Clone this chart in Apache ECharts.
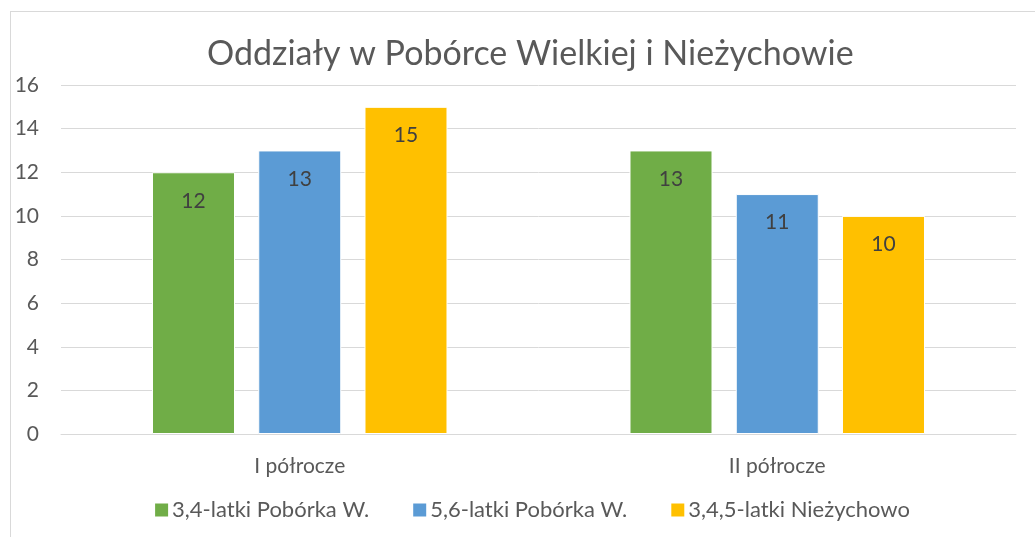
<!DOCTYPE html>
<html>
<head>
<meta charset="utf-8">
<script src="https://cdn.jsdelivr.net/npm/echarts@6/dist/echarts.min.js"></script>
<style>
  html, body { margin: 0; padding: 0; overflow: hidden; background: #fff; }
  .frame { position: absolute; left: 10px; top: 11px; width: 1060px; height: 600px; border: 1px solid #d9d9d9; }
  #chart { position: absolute; left: 0; top: 0; width: 1063px; height: 537px; }
</style>
</head>
<body>
<div class="frame"></div>
<div id="chart"></div>
<script>
// dane
var categories = ["I półrocze", "II półrocze"];
var seriesNames = ["3,4-latki Pobórka W.", "5,6-latki Pobórka W.", "3,4,5-latki Nieżychowo"];
var pobórka34 = [12, 13];
var pobórka56 = [13, 11];
var nieżychowo345 = [15, 10];
var yTicks = { min: 0, max: 16, interval: 2 };

var colors = ["#70ad47", "#5b9bd5", "#ffc000"];
var font = "Lato, 'Open Sans', sans-serif";

function makeSeries(name, data) {
  return {
    name: name,
    type: "bar",
    data: data,
    barWidth: 83,
    barGap: "28%",
    itemStyle: { borderColor: "#ffffff", borderWidth: 1 },
    label: {
      show: true,
      position: "insideTop",
      distance: 18,
      color: "#404040",
      fontSize: 21,
      fontFamily: font
    }
  };
}

var myChart = echarts.init(document.getElementById("chart"));
myChart.setOption({
  animation: false,
  color: colors,
  textStyle: { fontFamily: font },
  title: {
    text: "Oddziały w Pobórce Wielkiej i Nieżychowie",
    left: 207,
    top: 37,
    padding: 0,
    textStyle: { color: "#595959", fontSize: 34, fontWeight: "normal", fontFamily: font }
  },
  legend: {
    data: seriesNames,
    left: "center",
    top: 499,
    padding: 0,
    itemWidth: 15,
    itemHeight: 15,
    itemGap: 42,
    icon: "rect",
    textStyle: { color: "#595959", fontSize: 22, fontFamily: font, padding: [0, 0, 0, -2] }
  },
  grid: { left: 61, right: 47, top: 85, bottom: 103 },
  xAxis: {
    type: "category",
    data: categories,
    axisLine: { show: true, lineStyle: { color: "#d9d9d9", width: 1 } },
    axisTick: { show: false },
    axisLabel: { color: "#595959", fontSize: 21, margin: 22, fontFamily: font }
  },
  yAxis: {
    type: "value",
    min: yTicks.min,
    max: yTicks.max,
    interval: yTicks.interval,
    axisLine: { show: false },
    axisTick: { show: false },
    splitLine: { lineStyle: { color: "#d9d9d9", width: 1 } },
    axisLabel: { color: "#595959", fontSize: 21, margin: 22, fontFamily: font }
  },
  series: [
    makeSeries(seriesNames[0], pobórka34),
    makeSeries(seriesNames[1], pobórka56),
    makeSeries(seriesNames[2], nieżychowo345)
  ]
});
</script>
</body>
</html>
